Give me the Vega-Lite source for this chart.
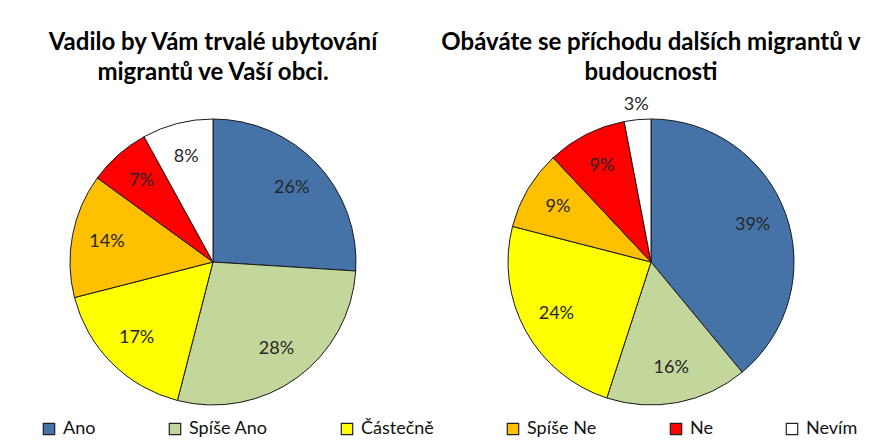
{
  "$schema": "https://vega.github.io/schema/vega-lite/v6.json",
  "padding": {"left": 0, "top": 30, "right": 0, "bottom": 0},
  "background": "white",
  "data": {"values": [
    {"chart": "A", "k": 1, "cat": "Ano", "v": 0.26},
    {"chart": "A", "k": 2, "cat": "Spíše Ano", "v": 0.28},
    {"chart": "A", "k": 3, "cat": "Částečně", "v": 0.17},
    {"chart": "A", "k": 4, "cat": "Spíše Ne", "v": 0.14},
    {"chart": "A", "k": 5, "cat": "Ne", "v": 0.07},
    {"chart": "A", "k": 6, "cat": "Nevím", "v": 0.08},
    {"chart": "B", "k": 1, "cat": "Ano", "v": 0.39},
    {"chart": "B", "k": 2, "cat": "Spíše Ano", "v": 0.16},
    {"chart": "B", "k": 3, "cat": "Částečně", "v": 0.24},
    {"chart": "B", "k": 4, "cat": "Spíše Ne", "v": 0.09},
    {"chart": "B", "k": 5, "cat": "Ne", "v": 0.09},
    {"chart": "B", "k": 6, "cat": "Nevím", "v": 0.03}
  ]},
  "spacing": 12,
  "hconcat": [
    {
      "title": {"text": ["Vadilo by Vám trvalé ubytování", "migrantů ve Vaší obci."], "offset": 32},
      "transform": [{"filter": "datum.chart === 'A'"}],
      "width": 426,
      "height": 290,
      "layer": [
        {
          "mark": {"type": "arc", "outerRadius": 143, "stroke": "#1a1a1a", "strokeWidth": 1},
          "encoding": {
            "theta": {"field": "v", "type": "quantitative", "stack": true},
            "order": {"field": "k", "type": "quantitative"},
            "color": {"field": "cat", "type": "nominal",
              "scale": {"domain": ["Ano", "Spíše Ano", "Částečně", "Spíše Ne", "Ne", "Nevím"],
                        "range": ["#4572A7", "#C3D69B", "#FFFF00", "#FFC000", "#FF0000", "#FFFFFF"]},
              "sort": ["Ano", "Spíše Ano", "Částečně", "Spíše Ne", "Ne", "Nevím"]}
          }
        },
        {
          "mark": {"type": "text", "radius": 108, "font": "Lato", "fontSize": 18, "fill": "#262626"},
          "encoding": {
            "theta": {"field": "v", "type": "quantitative", "stack": true},
            "order": {"field": "k", "type": "quantitative"},
            "detail": {"field": "cat", "type": "nominal"},
            "text": {"field": "v", "format": ".0%", "condition": {"test": "datum.v < 0.05", "value": ""}}
          }
        }
      ]
    },
    {
      "title": {"text": ["Obáváte se příchodu dalších migrantů v", "budoucnosti"], "offset": 11},
      "transform": [{"filter": "datum.chart === 'B'"}],
      "width": 426,
      "height": 290,
      "layer": [
        {
          "mark": {"type": "arc", "outerRadius": 143, "stroke": "#1a1a1a", "strokeWidth": 1},
          "encoding": {
            "theta": {"field": "v", "type": "quantitative", "stack": true},
            "order": {"field": "k", "type": "quantitative"},
            "color": {"field": "cat", "type": "nominal",
              "scale": {"domain": ["Ano", "Spíše Ano", "Částečně", "Spíše Ne", "Ne", "Nevím"],
                        "range": ["#4572A7", "#C3D69B", "#FFFF00", "#FFC000", "#FF0000", "#FFFFFF"]},
              "sort": ["Ano", "Spíše Ano", "Částečně", "Spíše Ne", "Ne", "Nevím"]}
          }
        },
        {
          "mark": {"type": "text", "radius": 108, "font": "Lato", "fontSize": 18, "fill": "#262626"},
          "encoding": {
            "theta": {"field": "v", "type": "quantitative", "stack": true},
            "order": {"field": "k", "type": "quantitative"},
            "detail": {"field": "cat", "type": "nominal"},
            "text": {"field": "v", "format": ".0%", "condition": {"test": "datum.v < 0.05", "value": ""}}
          }
        },
        {
          "mark": {"type": "text", "radius": 158, "font": "Lato", "fontSize": 18, "fill": "#262626"},
          "encoding": {
            "theta": {"field": "v", "type": "quantitative", "stack": true},
            "order": {"field": "k", "type": "quantitative"},
            "detail": {"field": "cat", "type": "nominal"},
            "text": {"field": "v", "format": ".0%", "condition": {"test": "datum.v >= 0.05", "value": ""}}
          }
        }
      ]
    }
  ],
  "config": {
    "view": {"stroke": null},
    "title": {"font": "Lato", "fontSize": 24, "fontWeight": "bold", "color": "#000000", "lineHeight": 30, "frame": "group", "anchor": "middle"},
    "legend": {
      "title": null,
      "orient": "none",
      "legendX": 40,
      "legendY": 303,
      "direction": "horizontal",
      "symbolType": "square",
      "symbolSize": 130,
      "symbolStrokeColor": "#222222",
      "symbolStrokeWidth": 1.2,
      "symbolOpacity": 1,
      "labelFont": "Lato",
      "labelFontSize": 18,
      "labelColor": "#111111",
      "labelOffset": 5,
      "labelLimit": 200,
      "columnPadding": 70
    }
  }
}
